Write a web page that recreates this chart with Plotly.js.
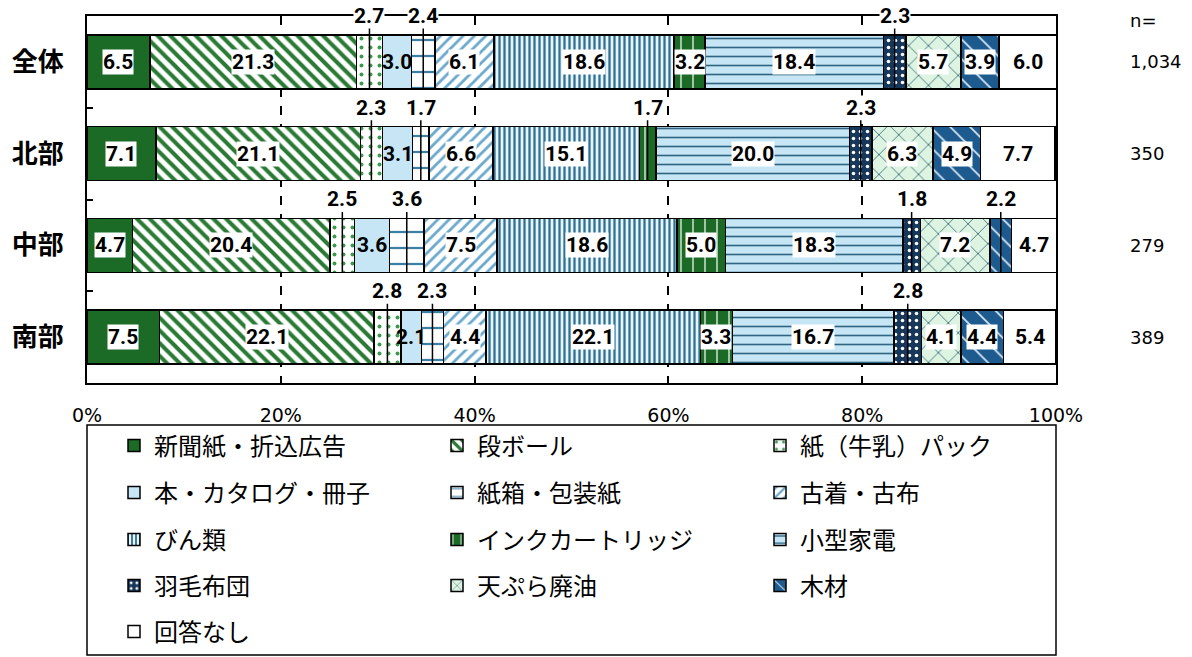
<!DOCTYPE html>
<html>
<head>
<meta charset="utf-8">
<script src="https://cdn.plot.ly/plotly-3.0.1.min.js"></script>
<style>
  html, body { margin: 0; padding: 0; background: #fff; }
  #chart { width: 1192px; height: 657px; }
</style>
</head>
<body>
<div id="chart"></div>
<script>
// ================= Data =================
const regions = ["全体", "北部", "中部", "南部"];
const sampleSizes = ["1,034", "350", "279", "389"];
const items = ["新聞紙・折込広告", "段ボール", "紙（牛乳）パック", "本・カタログ・冊子", "紙箱・包装紙", "古着・古布",
  "びん類", "インクカートリッジ", "小型家電", "羽毛布団", "天ぷら廃油", "木材", "回答なし"];

const zentai = [6.5, 21.3, 2.7, 3.0, 2.4, 6.1, 18.6, 3.2, 18.4, 2.3, 5.7, 3.9, 6.0];
const hokubu = [7.1, 21.1, 2.3, 3.1, 1.7, 6.6, 15.1, 1.7, 20.0, 2.3, 6.3, 4.9, 7.7];
const chubu  = [4.7, 20.4, 2.5, 3.6, 3.6, 7.5, 18.6, 5.0, 18.3, 1.8, 7.2, 2.2, 4.7];
const nanbu  = [7.5, 22.1, 2.8, 2.1, 2.3, 4.4, 22.1, 3.3, 16.7, 2.8, 4.1, 4.4, 5.4];
const regionValues = [zentai, hokubu, chubu, nanbu];

// ================= Styles =================
const fills = [
  { bg: "#1b6b26" },
  { shape: "\\", bg: "#ffffff", fg: "#2a7a35", size: 9, sol: 0.45 },
  { shape: ".", bg: "#ffffff", fg: "#3a9a4a", size: 9, sol: 0.15 },
  { bg: "#c6e6f5" },
  { shape: "-", bg: "#ffffff", fg: "#3b7fa3", size: 16, sol: 0.14 },
  { shape: "/", bg: "#ffffff", fg: "#6aa8cc", size: 8, sol: 0.35 },
  { shape: "|", bg: "#e8f4fa", fg: "#2e6f93", size: 5, sol: 0.45 },
  { shape: "|", bg: "#1b6b26", fg: "#ffffff", size: 12, sol: 0.1 },
  { shape: "-", bg: "#c6e6f5", fg: "#2f6482", size: 9, sol: 0.18 },
  { shape: ".", bg: "#16365a", fg: "#ffffff", size: 7, sol: 0.2 },
  { shape: "x", bg: "#ddf4e2", fg: "#3b6b78", size: 14, sol: 0.12 },
  { shape: "\\", bg: "#1d5a8e", fg: "#d8e8f4", size: 14, sol: 0.12 },
  { bg: "#ffffff" }
];

const numFont = "'DejaVu Sans', sans-serif";
const jpFont = "'Noto Sans CJK JP', 'Noto Sans', sans-serif";
const labelFont = { family: "Roboto, 'DejaVu Sans', sans-serif", size: 21, color: "#000", weight: "bold" };

const barHalf = 0.295;

// ================= Traces =================
const traces = items.map((name, si) => {
  const f = fills[si];
  const marker = { color: f.bg, line: { color: "#000", width: 1.5 } };
  if (f.shape) {
    marker.pattern = { shape: f.shape, bgcolor: f.bg, fgcolor: f.fg, size: f.size, solidity: f.sol, fillmode: "replace" };
  }
  const row = Math.floor(si / 3);
  return {
    type: "bar",
    orientation: "h",
    name: name,
    y: regions,
    x: regionValues.map(vals => vals[si]),
    marker: marker,
    hoverinfo: "name+x",
    legend: row === 0 ? "legend" : "legend" + (row + 1)
  };
});

// ================= Labels =================
const annotations = [];
regionValues.forEach((vals, ci) => {
  let acc = 0;
  vals.forEach((v, si) => {
    const mid = acc + v / 2;
    acc += v;
    const outside = si === 4 || (v < 3 && si !== 3);
    if (outside) {
      annotations.push({
        x: mid, y: ci + barHalf, xref: "x", yref: "y",
        text: v.toFixed(1), font: labelFont,
        showarrow: true, arrowhead: 0, arrowwidth: 1.5, arrowcolor: "#000",
        ax: 0, ay: -73, bgcolor: "#fff", borderpad: 0
      });
    } else {
      annotations.push({
        x: mid, y: ci, xref: "x", yref: "y",
        text: v.toFixed(1), font: labelFont, showarrow: false,
        bgcolor: (si === 3 || si === 12) ? "rgba(0,0,0,0)" : "#fff", borderpad: 0
      });
    }
  });
  annotations.push({
    x: 1.074, xref: "paper", xanchor: "left", y: ci, yref: "y",
    text: sampleSizes[ci], showarrow: false,
    font: { family: numFont, size: 18, color: "#000" }
  });
});
annotations.push({
  x: 1.074, xref: "paper", xanchor: "left", y: 0.989, yref: "paper", yanchor: "middle",
  text: "n=", showarrow: false,
  font: { family: numFont, size: 18, color: "#000" }
});

// ================= Legends (one per row) =================
const legendRowsY = [446, 493, 540, 586, 632];
const legendBase = {
  orientation: "h", xref: "container", yref: "container",
  x: 114 / 1192, xanchor: "left", yanchor: "middle",
  entrywidth: 278, entrywidthmode: "pixels",
  font: { family: jpFont, size: 24, color: "#000" },
  bgcolor: "rgba(0,0,0,0)", borderwidth: 0, traceorder: "normal"
};

const layout = {
  width: 1192, height: 657,
  margin: { l: 87, r: 136, t: 16, b: 274 },
  paper_bgcolor: "#fff", plot_bgcolor: "#fff",
  barmode: "stack",
  bargap: 0.41,
  showlegend: true,
  xaxis: {
    range: [0, 100], dtick: 20, ticksuffix: "%",
    showgrid: true, gridcolor: "#000", gridwidth: 1.5, griddash: "dash",
    showline: true, linecolor: "#000", linewidth: 2, mirror: true,
    zeroline: false, ticks: "", ticklabelstandoff: 14,
    tickfont: { family: numFont, size: 19, color: "#000" },
    fixedrange: true
  },
  yaxis: {
    type: "category", range: [3.5, -0.5],
    showline: true, linecolor: "#000", linewidth: 2, mirror: true,
    ticks: "inside", tickson: "boundaries", ticklen: 6, tickwidth: 1.5, tickcolor: "#000",
    showgrid: false, zeroline: false, ticklabelstandoff: 16,
    tickfont: { family: jpFont, size: 26, color: "#000", weight: "bold" },
    fixedrange: true
  },
  annotations: annotations,
  shapes: [{
    type: "rect", xref: "paper", yref: "paper",
    x0: 0, x1: 1, y0: -0.741, y1: -0.1144,
    line: { color: "#000", width: 1.5 }
  }]
};
legendRowsY.forEach((py, i) => {
  layout[i === 0 ? "legend" : "legend" + (i + 1)] = Object.assign({}, legendBase, { y: 1 - py / 657 });
});

Plotly.newPlot("chart", traces, layout, { displayModeBar: false, responsive: false });
</script>
</body>
</html>
